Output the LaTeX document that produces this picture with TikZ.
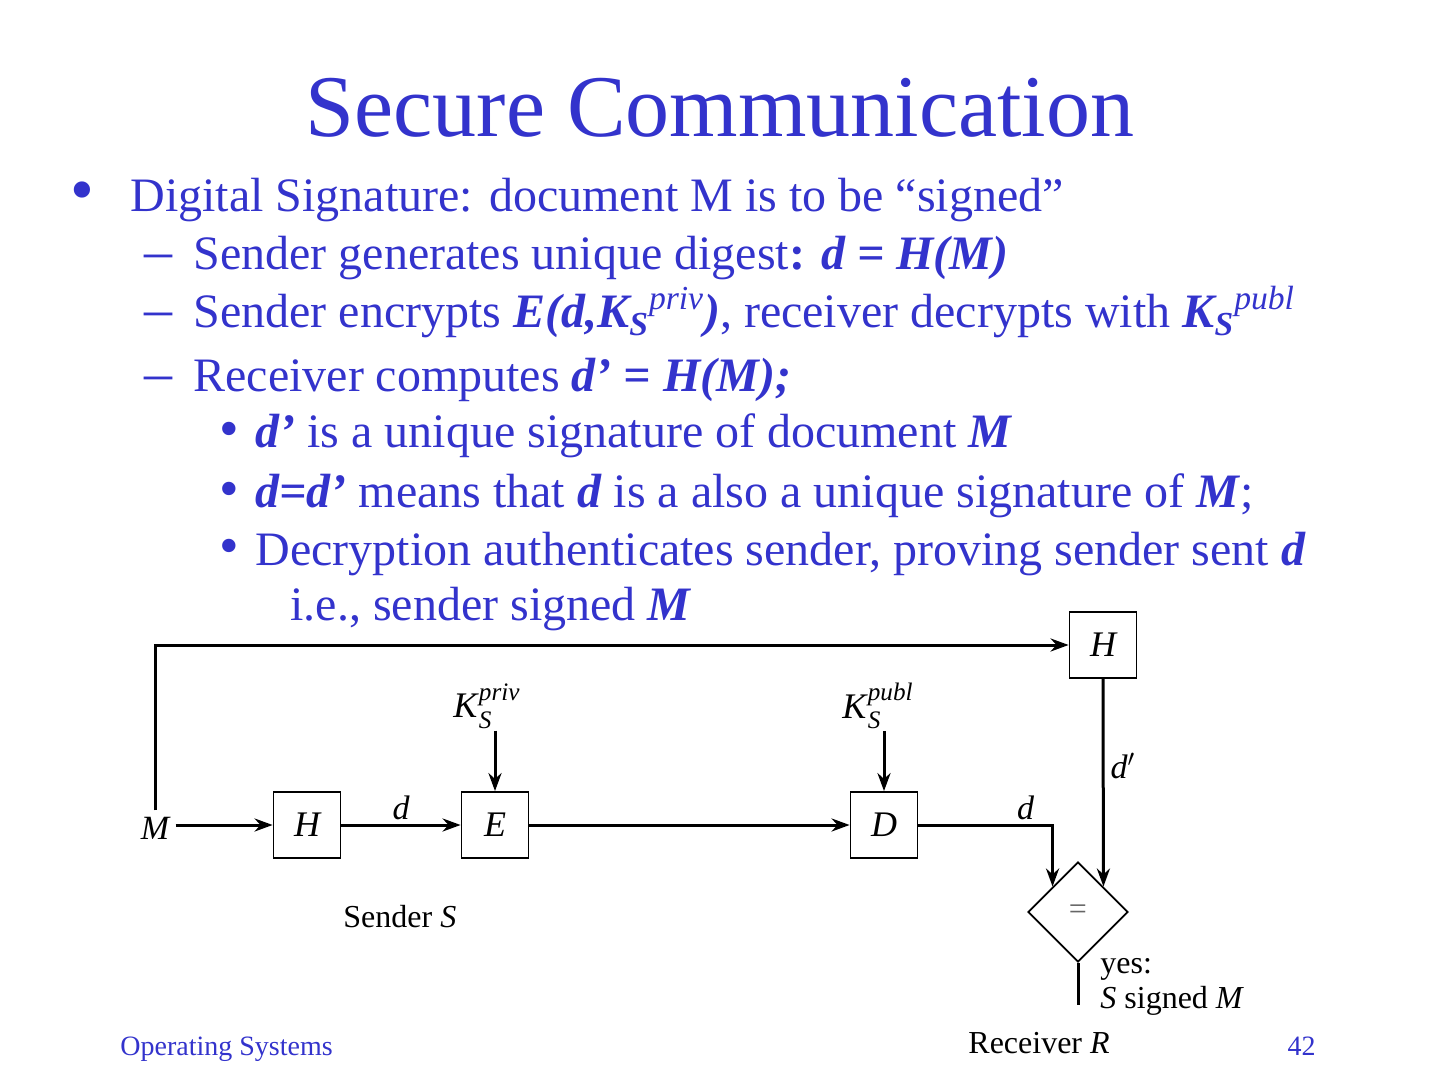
\documentclass[tikz,border=0pt]{standalone}
\usepackage{fontspec}
\setmainfont{Liberation Serif}
\usepackage{amsmath}
\usepackage{tikz}
\usetikzlibrary{arrows.meta,positioning,calc,shapes.geometric}
\definecolor{SlideBlue}{RGB}{51,51,204}
\newcommand{\bi}[1]{\textbf{\textit{#1}}}

\begin{document}
\begin{tikzpicture}[
  x=0.5pt, y=-0.5pt,
  >=Stealth,
  slidetext/.style={anchor=base west, inner sep=0pt, text=SlideBlue, font=\fontsize{24}{28}\selectfont},
  bulletmark/.style={anchor=base west, inner sep=0pt, text=SlideBlue, font=\fontsize{24}{28}\selectfont},
  blockbox/.style={rectangle, draw, line width=0.9pt, minimum width=33.5pt, minimum height=33pt, inner sep=0pt, font=\fontsize{18}{20}\selectfont\itshape},
  cmpbox/.style={diamond, draw, line width=0.9pt, minimum width=50pt, minimum height=50pt, inner sep=0pt, font=\fontsize{16}{18}\selectfont},
  lbl/.style={inner sep=1pt, font=\fontsize{17}{19}\selectfont\itshape},
  keylbl/.style={inner sep=1pt, font=\fontsize{18}{20}\selectfont},
  caption/.style={anchor=base west, inner sep=0pt, font=\fontsize{16}{18}\selectfont},
  flow/.style={line width=1.5pt, -{Stealth[length=9pt,width=6.5pt]}},
]
\useasboundingbox (0,0) rectangle (1440,1080);

\node[anchor=base, inner sep=0pt, text=SlideBlue, font=\fontsize{44}{50}\selectfont] (title) at (720,137) {Secure Communication};

\node[bulletmark, font=\fontsize{34}{36}\selectfont] (b1) at (70,213) {•};
\node[slidetext] (t1) at (130,212) {Digital Signature: document M is to be “signed”};
\node[bulletmark, font=\fontsize{28}{30}\selectfont] (b2) at (144,270) {–};
\node[slidetext] (t2) at (193,270) {Sender generates unique digest\textbf{:} \bi{d = H(M)}};
\node[bulletmark, font=\fontsize{28}{30}\selectfont] (b3) at (144,328) {–};
\node[slidetext] (t3) at (193,328) {Sender encrypts \bi{E(d,K\textsubscript{S}\textsuperscript{\textmd{priv}})}, receiver decrypts with \bi{K\textsubscript{S}\textsuperscript{\textmd{publ}}}};
\node[bulletmark, font=\fontsize{28}{30}\selectfont] (b4) at (144,392) {–};
\node[slidetext] (t4) at (193,392) {Receiver computes \bi{d’ = H(M);}};
\node[bulletmark, font=\fontsize{28}{30}\selectfont] (b5) at (219,447) {•};
\node[slidetext] (t5) at (255,448) {\bi{d’} is a unique signature of document \bi{M}};
\node[bulletmark, font=\fontsize{28}{30}\selectfont] (b6) at (219,507) {•};
\node[slidetext] (t6) at (255,508) {\bi{d=d’} means that \bi{d} is a also a unique signature of \bi{M};};
\node[bulletmark, font=\fontsize{28}{30}\selectfont] (b7) at (219,564) {•};
\node[slidetext] (t7) at (255,565) {Decryption authenticates sender, proving sender sent \bi{d}};
\node[slidetext] (t8) at (290,620) {i.e., sender signed \bi{M}};

\node[lbl, inner sep=3pt] (msg) at (155,828) {M};
\node[blockbox] (hs) at (307,825) {H};
\node[blockbox] (enc) at (495,825) {E};
\node[blockbox] (dec) at (884,825) {D};
\node[blockbox] (hr) at (1103,645) {H};
\node[cmpbox, text=black!60] (cmp) at (1078,912) {=};
\node[keylbl] (kpriv) at (487,706) {\textit{K}$_{\textit{S}}^{\textit{priv}}$};
\node[keylbl] (kpubl) at (878,706) {\textit{K}$_{\textit{S}}^{\textit{publ}}$};
\coordinate (cmpin) at ($(cmp.north)!0.5!(cmp.west)$);
\coordinate (cmpin2) at ($(cmp.north)!0.5!(cmp.east)$);
\coordinate (yesend) at (1078,1005);

\draw[flow] (msg.north) |- (hr.west);
\draw[flow] (msg.east |- hs.west) -- (hs.west);
\draw[flow] (hs.east) -- node[lbl, above=1pt] {d} (enc.west);
\draw[flow] (enc.east) -- (dec.west);
\draw[flow] (enc.north |- kpriv.south) -- (enc.north);
\draw[flow] (dec.north |- kpubl.south) -- (dec.north);
\draw[flow] (dec.east) -| node[lbl, above=1pt, pos=0.4] {d} (cmpin);
\draw[flow] (hr.south) -- node[lbl, right=2pt, pos=0.42] {d$'$} (cmpin2);
\draw[line width=1.5pt] (cmp.south) -- (yesend);

\node[caption] (yes) at (1100,973) {yes:};
\node[caption] (signed) at (1100,1008) {\textit{S} signed \textit{M}};
\node[caption] (sender) at (343,927) {Sender \textit{S}};
\node[caption] (receiver) at (968,1053) {Receiver \textit{R}};

\node[anchor=base west, inner sep=0pt, text=SlideBlue, font=\fontsize{14}{16}\selectfont] (foot) at (120,1055) {Operating Systems};
\node[anchor=base east, inner sep=0pt, text=SlideBlue, font=\fontsize{14}{16}\selectfont] (page) at (1316,1055) {42};
\end{tikzpicture}
\end{document}
